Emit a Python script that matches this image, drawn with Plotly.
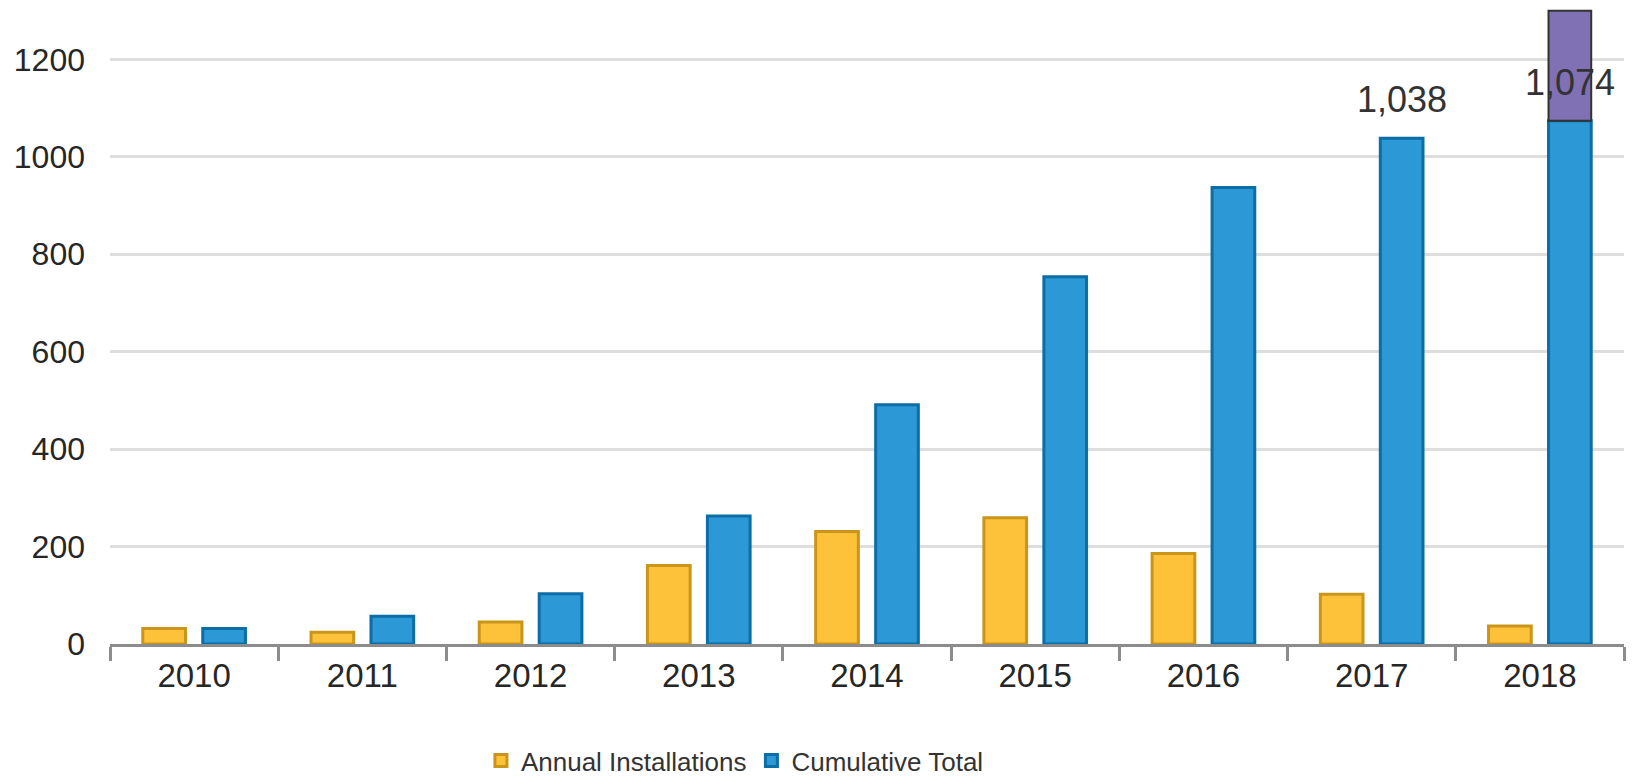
import plotly.graph_objects as go

years = ['2010', '2011', '2012', '2013', '2014', '2015', '2016', '2017', '2018']
annual = [32, 24, 45, 161, 231, 259, 186, 102, 37]
cumulative = [32, 57, 103, 263, 491, 754, 937, 1038, 1074]
highlight_year = ['2018']
highlight_extra = [226]
label_years = ['2017', '2018']

REG = "Liberation Sans, Arial, sans-serif"

fig = go.Figure()
fig.add_trace(go.Bar(
    x=years, y=annual, name='Annual Installations', offsetgroup='a',
    marker=dict(color='#FEC13A', line=dict(color='#C9951A', width=3)),
))
fig.add_trace(go.Bar(
    x=years, y=cumulative, name='Cumulative Total', offsetgroup='b',
    marker=dict(color='#2C98D6', line=dict(color='#0B6EA6', width=3)),
))
base_vals = [cumulative[years.index(y)] for y in highlight_year]
fig.add_trace(go.Bar(
    x=highlight_year, y=highlight_extra, base=base_vals, offsetgroup='b',
    showlegend=False, hoverinfo='skip',
    marker=dict(color='#8070B4', line=dict(color='#333333', width=2)),
))

for yr in label_years:
    i = years.index(yr)
    v = cumulative[i]
    fig.add_annotation(x=i, y=v, text=f"{v:,}", showarrow=False,
                       xref='x', yref='y', xshift=30, yanchor='bottom', yshift=16,
                       font=dict(family=REG, size=36, color='#333333'))

fig.update_layout(
    width=1632, height=784,
    margin=dict(l=110, r=8, t=0, b=140),
    paper_bgcolor='white', plot_bgcolor='white',
    barmode='group', bargap=0.287, bargroupgap=0.288,
    showlegend=True,
    legend=dict(orientation='h', x=0.245, xanchor='left',
                yref='container', y=0, yanchor='bottom',
                font=dict(family=REG, size=26, color='#333333'),
                bgcolor='rgba(0,0,0,0)'),
    xaxis=dict(type='category', categoryorder='array', categoryarray=years,
               range=[-0.5, len(years) - 0.5],
               showline=True, linecolor='#8C8C8C', linewidth=3,
               ticks='outside', tickson='boundaries', ticklen=14, tickwidth=3,
               tickcolor='#8C8C8C', showgrid=False, tickangle=0,
               tickfont=dict(family=REG, size=33, color='#262626')),
    yaxis=dict(range=[0, 1322], tickvals=[0, 200, 400, 600, 800, 1000, 1200],
               showgrid=True, gridcolor='#DEDEDE', gridwidth=3, zeroline=False,
               showline=False, ticks='', ticklabelstandoff=24,
               tickfont=dict(family=REG, size=32, color='#262626')),
)

fig.write_html("out.html")
